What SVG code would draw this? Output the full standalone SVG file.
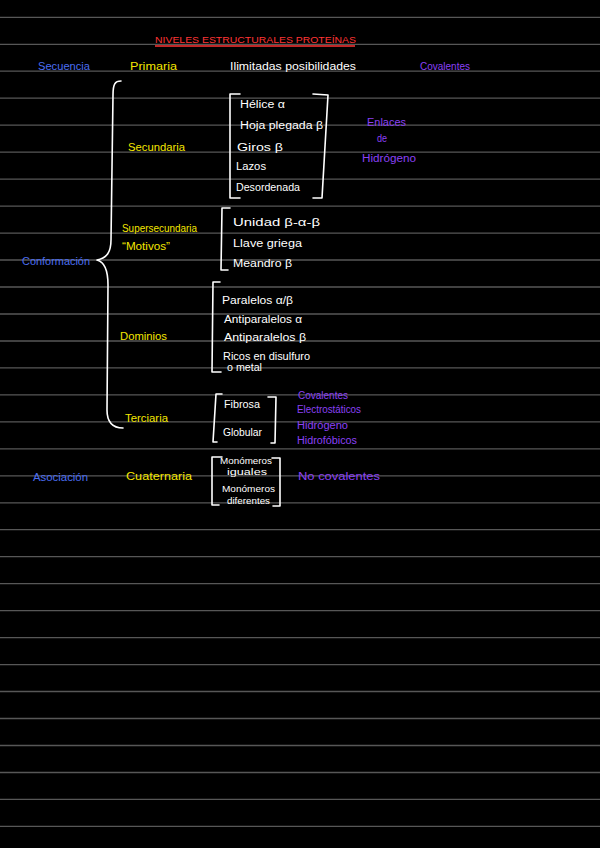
<svg xmlns="http://www.w3.org/2000/svg" width="600" height="848" viewBox="0 0 600 848">
<style>
text{font-family:"Liberation Sans","DejaVu Sans",sans-serif;font-size:10px}
.r{fill:#ff3535}.b{fill:#4b6ef2}.y{fill:#f4e600}.w{fill:#ffffff}.p{fill:#8b40f5}
.s{font-size:8.2px}
.rule{stroke:#575757;stroke-width:1.3}
.br{fill:none;stroke:#ffffff;stroke-width:1.6;stroke-linejoin:round;stroke-linecap:round}
</style>
<rect width="600" height="848" fill="#000000"/>
<g id="rules">
<line class="rule" x1="0" x2="600" y1="17.3" y2="17.3"/><line class="rule" x1="0" x2="600" y1="44.3" y2="44.3"/><line class="rule" x1="0" x2="600" y1="71.2" y2="71.2"/><line class="rule" x1="0" x2="600" y1="98.2" y2="98.2"/><line class="rule" x1="0" x2="600" y1="125.2" y2="125.2"/><line class="rule" x1="0" x2="600" y1="152.2" y2="152.2"/><line class="rule" x1="0" x2="600" y1="179.1" y2="179.1"/><line class="rule" x1="0" x2="600" y1="206.1" y2="206.1"/><line class="rule" x1="0" x2="600" y1="233.1" y2="233.1"/><line class="rule" x1="0" x2="600" y1="260" y2="260"/><line class="rule" x1="0" x2="600" y1="287" y2="287"/><line class="rule" x1="0" x2="600" y1="314" y2="314"/><line class="rule" x1="0" x2="600" y1="341" y2="341"/><line class="rule" x1="0" x2="600" y1="367.9" y2="367.9"/><line class="rule" x1="0" x2="600" y1="394.9" y2="394.9"/><line class="rule" x1="0" x2="600" y1="421.9" y2="421.9"/><line class="rule" x1="0" x2="600" y1="448.8" y2="448.8"/><line class="rule" x1="0" x2="600" y1="475.8" y2="475.8"/><line class="rule" x1="0" x2="600" y1="502.8" y2="502.8"/><line class="rule" x1="0" x2="600" y1="529.7" y2="529.7"/><line class="rule" x1="0" x2="600" y1="556.7" y2="556.7"/><line class="rule" x1="0" x2="600" y1="583.7" y2="583.7"/><line class="rule" x1="0" x2="600" y1="610.6" y2="610.6"/><line class="rule" x1="0" x2="600" y1="637.6" y2="637.6"/><line class="rule" x1="0" x2="600" y1="664.6" y2="664.6"/><line class="rule" x1="0" x2="600" y1="691.5" y2="691.5"/><line class="rule" x1="0" x2="600" y1="718.5" y2="718.5"/><line class="rule" x1="0" x2="600" y1="745.5" y2="745.5"/><line class="rule" x1="0" x2="600" y1="772.5" y2="772.5"/><line class="rule" x1="0" x2="600" y1="799.4" y2="799.4"/><line class="rule" x1="0" x2="600" y1="826.4" y2="826.4"/>
</g>
<g id="title">
<text class="r" x="155" y="43" textLength="201" lengthAdjust="spacingAndGlyphs" style="font-size:9.5px">NIVELES ESTRUCTURALES PROTEÍNAS</text>
<line x1="155" y1="46" x2="355" y2="46" stroke="#ff3535" stroke-width="1.5"/>
</g>
<g id="connectors">
<path class="br" d="M121,81 C115,81 113,84 113,95 L111,240 C111,252 107,258 97,260 C105,262 108,270 108,285 L107,410 C107,422 112,428 123,428"/>
</g>
<g id="secuencia"><text class="b" x="38" y="70" textLength="52" lengthAdjust="spacingAndGlyphs">Secuencia</text></g>
<g id="primaria">
<text class="y" x="130" y="70" textLength="47" lengthAdjust="spacingAndGlyphs">Primaria</text>
<text class="w" x="230" y="70" textLength="126" lengthAdjust="spacingAndGlyphs">Ilimitadas posibilidades</text>
<text class="p" x="420" y="70" textLength="50" lengthAdjust="spacingAndGlyphs">Covalentes</text>
</g>
<g id="conformacion"><text class="b" x="22" y="265" textLength="68" lengthAdjust="spacingAndGlyphs">Conformación</text></g>
<g id="secundaria">
<text class="y" x="128" y="151" textLength="57" lengthAdjust="spacingAndGlyphs">Secundaria</text>
<path class="br" d="M240,94 L230,94 L230,198 L240,198"/>
<path class="br" d="M313,94 L328,95 L322,198 L313,198"/>
<text class="w" x="240" y="108" textLength="45" lengthAdjust="spacingAndGlyphs">Hélice α</text>
<text class="w" x="240" y="129" textLength="83" lengthAdjust="spacingAndGlyphs">Hoja plegada β</text>
<text class="w" x="237" y="151" textLength="46" lengthAdjust="spacingAndGlyphs">Giros β</text>
<text class="w" x="236" y="170" textLength="30" lengthAdjust="spacingAndGlyphs">Lazos</text>
<text class="w" x="236" y="191" textLength="64" lengthAdjust="spacingAndGlyphs">Desordenada</text>
<text class="p" x="367" y="126" textLength="39" lengthAdjust="spacingAndGlyphs">Enlaces</text>
<text class="p" x="377" y="142" textLength="10" lengthAdjust="spacingAndGlyphs">de</text>
<text class="p" x="362" y="162" textLength="54" lengthAdjust="spacingAndGlyphs">Hidrógeno</text>
</g>
<g id="supersecundaria">
<text class="y" x="122" y="232" textLength="75" lengthAdjust="spacingAndGlyphs">Supersecundaria</text>
<text class="y" x="122" y="250" textLength="48" lengthAdjust="spacingAndGlyphs">“Motivos”</text>
<path class="br" d="M230,208 L222,208 L221,270 L228,270"/>
<text class="w" x="233" y="226" textLength="87" lengthAdjust="spacingAndGlyphs">Unidad β-α-β</text>
<text class="w" x="233" y="247" textLength="69" lengthAdjust="spacingAndGlyphs">Llave griega</text>
<text class="w" x="233" y="267" textLength="59" lengthAdjust="spacingAndGlyphs">Meandro β</text>
</g>
<g id="dominios">
<text class="y" x="120" y="340" textLength="47" lengthAdjust="spacingAndGlyphs">Dominios</text>
<path class="br" d="M220,282 L213,282 L212,372 L221,372"/>
<text class="w" x="222" y="304" textLength="71" lengthAdjust="spacingAndGlyphs">Paralelos α/β</text>
<text class="w" x="224" y="323" textLength="78" lengthAdjust="spacingAndGlyphs">Antiparalelos α</text>
<text class="w" x="224" y="341" textLength="82" lengthAdjust="spacingAndGlyphs">Antiparalelos β</text>
<text class="w" x="223" y="360" textLength="87" lengthAdjust="spacingAndGlyphs">Ricos en disulfuro</text>
<text class="w" x="227" y="371" textLength="35" lengthAdjust="spacingAndGlyphs">o metal</text>
</g>
<g id="terciaria">
<text class="y" x="125" y="422" textLength="43" lengthAdjust="spacingAndGlyphs">Terciaria</text>
<path class="br" d="M222,394 L216,394 L213,442 L217,442"/>
<path class="br" d="M268,397 L276,397 L275,443 L271,443"/>
<text class="w" x="224" y="408" textLength="36" lengthAdjust="spacingAndGlyphs">Fibrosa</text>
<text class="w" x="223" y="436" textLength="39" lengthAdjust="spacingAndGlyphs">Globular</text>
<text class="p" x="298" y="399" textLength="50" lengthAdjust="spacingAndGlyphs">Covalentes</text>
<text class="p" x="297" y="413" textLength="64" lengthAdjust="spacingAndGlyphs">Electrostáticos</text>
<text class="p" x="297" y="429" textLength="51" lengthAdjust="spacingAndGlyphs">Hidrógeno</text>
<text class="p" x="297" y="444" textLength="60" lengthAdjust="spacingAndGlyphs">Hidrofóbicos</text>
</g>
<g id="asociacion"><text class="b" x="33" y="481" textLength="55" lengthAdjust="spacingAndGlyphs">Asociación</text></g>
<g id="cuaternaria">
<text class="y" x="126" y="480" textLength="66" lengthAdjust="spacingAndGlyphs">Cuaternaria</text>
<path class="br" d="M222,457 L212,457 L212,505 L219,505"/>
<path class="br" d="M272,458 L280,458 L280,506 L273,506"/>
<text class="w s" x="220" y="464" textLength="52" lengthAdjust="spacingAndGlyphs">Monómeros</text>
<text class="w s" x="227" y="475" textLength="40" lengthAdjust="spacingAndGlyphs">iguales</text>
<text class="w s" x="222" y="492" textLength="53" lengthAdjust="spacingAndGlyphs">Monómeros</text>
<text class="w s" x="227" y="504" textLength="43" lengthAdjust="spacingAndGlyphs">diferentes</text>
<text class="p" x="298" y="480" textLength="82" lengthAdjust="spacingAndGlyphs">No covalentes</text>
</g>
</svg>
